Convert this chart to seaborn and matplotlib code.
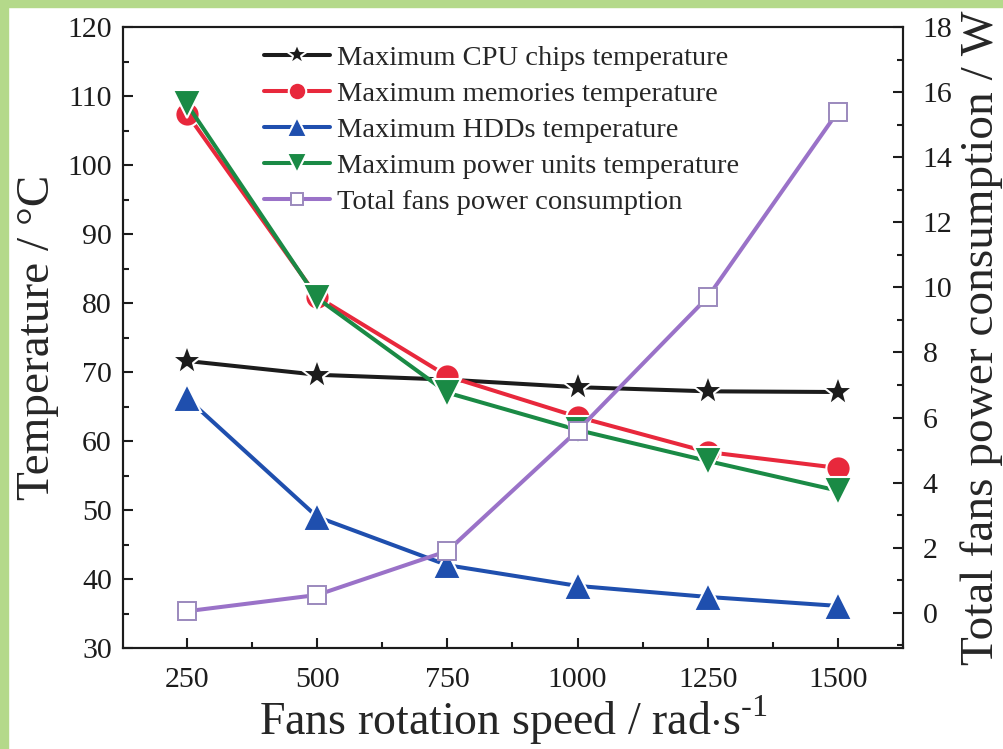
import numpy as np
import pandas as pd
import matplotlib
matplotlib.use("Agg")
import matplotlib.pyplot as plt
from matplotlib.patches import Rectangle
from matplotlib.ticker import MultipleLocator
import seaborn as sns

# data
speed = [250, 500, 750, 1000, 1250, 1500]
cpu_temp = [71.6, 69.6, 68.9, 67.8, 67.2, 67.1]
memory_temp = [107.4, 80.9, 69.4, 63.5, 58.4, 56.1]
hdd_temp = [66.2, 49.0, 42.0, 39.0, 37.4, 36.1]
power_unit_temp = [108.8, 80.7, 67.0, 61.6, 57.1, 52.8]
fans_power = [0.05, 0.55, 1.9, 5.6, 9.7, 15.4]

x_ticks = [250, 500, 750, 1000, 1250, 1500]
left_ticks = [30, 40, 50, 60, 70, 80, 90, 100, 110, 120]
right_ticks = [0, 2, 4, 6, 8, 10, 12, 14, 16, 18]

sns.set_style("ticks")
plt.rcParams["font.family"] = ["Liberation Serif", "DejaVu Serif"]
plt.rcParams["mathtext.fontset"] = "custom"
plt.rcParams["mathtext.rm"] = "Liberation Serif"

fig = plt.figure(figsize=(10.04, 7.49), dpi=100)
fig.patch.set_facecolor("white")
# green frame on top and left edge
fig.add_artist(Rectangle((0, 1 - 7 / 749), 1, 7 / 749, transform=fig.transFigure,
                         color="#b4d98a", zorder=-1))
fig.add_artist(Rectangle((0, 0), 8 / 1004, 1, transform=fig.transFigure,
                         color="#b4d98a", zorder=-1))

ax = fig.add_axes([123 / 1004, 1 - 648 / 749, 780 / 1004, 621 / 749])
ax2 = ax.twinx()

lw = 2.9
mew = 1.5

series = [
    (cpu_temp, "Maximum CPU chips temperature", "#1c1c1c", "*", 23),
    (memory_temp, "Maximum memories temperature", "#e8283c", "o", 17.5),
    (hdd_temp, "Maximum HDDs temperature", "#1f4fae", "^", 19.5),
    (power_unit_temp, "Maximum power units temperature", "#1a8a45", "v", 19.5),
]

for vals, name, col, mk, size in series:
    sns.lineplot(x=speed, y=vals, ax=ax, color=col, marker=mk, markersize=size,
                 linewidth=lw, markeredgecolor="white", markeredgewidth=mew,
                 label=name, legend=False)

sns.lineplot(x=speed, y=fans_power, ax=ax2, color="#9a72c8", marker="s",
             markersize=12.5, linewidth=lw, markerfacecolor="white",
             markeredgecolor="#9b89bd", markeredgewidth=1.4,
             label="Total fans power consumption", legend=False)

ax.set_xlim(127, 1625)
ax.set_ylim(30, 120)
ax2.set_ylim(-1.08, 18)

ax.set_xticks(x_ticks)
ax.set_yticks(left_ticks)
ax2.set_yticks(right_ticks)
ax.xaxis.set_minor_locator(MultipleLocator(125))
ax.yaxis.set_minor_locator(MultipleLocator(5))
ax2.yaxis.set_minor_locator(MultipleLocator(1))

for a in (ax, ax2):
    for s in a.spines.values():
        s.set_linewidth(1.5)
        s.set_color("#1c1c1c")
    a.tick_params(which="major", direction="in", length=7, width=1.5,
                  labelsize=21.5, colors="#1c1c1c", pad=8)
    a.tick_params(which="minor", direction="in", length=4, width=1.5,
                  colors="#1c1c1c")
ax.tick_params(axis="y", which="both", right=False)
ax.tick_params(axis="x", which="both", top=False)
ax.tick_params(axis="x", which="major", pad=14)
ax2.tick_params(axis="y", which="major", pad=14)

ax.set_xlabel(r"Fans rotation speed / rad$\cdot$s$^{\text{-1}}$",
              fontsize=33, labelpad=0)
ax.set_ylabel("Temperature / °C", fontsize=34, labelpad=6)
ax2.set_ylabel("Total fans power consumption / W", fontsize=34, labelpad=6)

h1, l1 = ax.get_legend_handles_labels()
h2, l2 = ax2.get_legend_handles_labels()
ax.legend(h1 + h2, l1 + l2, loc="upper left",
          bbox_to_anchor=(250 / 1004, 1 - 31 / 749),
          bbox_transform=fig.transFigure, frameon=False, fontsize=20.5,
          handlelength=2.3, handletextpad=0.25, labelspacing=0.35,
          borderpad=0, markerscale=0.72)

fig.savefig("out.png", dpi=100)
